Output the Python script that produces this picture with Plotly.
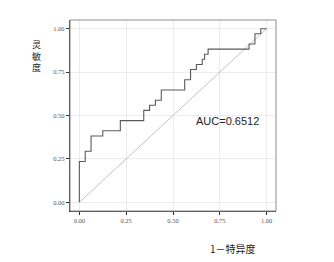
import plotly.graph_objects as go

# ROC step vertices (1 - specificity, sensitivity)
fpr = [0.0, 0.0, 1/32, 1/32, 2/32, 2/32, 4/32, 4/32, 7/32, 7/32, 11/32, 11/32,
       12/32, 12/32, 13/32, 13/32, 14/32, 14/32, 18/32, 18/32, 19/32, 19/32,
       20/32, 20/32, 21/32, 21/32, 21.4/32, 21.4/32, 22/32, 22/32, 29/32, 29/32,
       30/32, 30/32, 31/32, 31/32, 1.0]
tpr = [0.0, 8/34, 8/34, 10/34, 10/34, 13/34, 13/34, 14/34, 14/34, 16/34, 16/34, 18/34,
       18/34, 19/34, 19/34, 20/34, 20/34, 22/34, 22/34, 24/34, 24/34, 26/34,
       26/34, 27/34, 27/34, 28/34, 28/34, 29/34, 29/34, 30/34, 30/34, 31/34,
       31/34, 33/34, 33/34, 1.0, 1.0]
diag = [0.0, 1.0]
ticks = [0.0, 0.25, 0.5, 0.75, 1.0]
tick_labels = ["0.00", "0.25", "0.50", "0.75", "1.00"]
auc_label = "AUC=0.6512"
x_title = "1－特异度"
y_title = "灵<br>敏<br>度"

fig = go.Figure()
fig.add_trace(go.Scatter(x=diag, y=diag, mode="lines",
                         line=dict(color="#b3b3b3", width=0.8), hoverinfo="skip"))
fig.add_trace(go.Scatter(x=fpr, y=tpr, mode="lines",
                         line=dict(color="#5a5a5a", width=1.1)))

axis_common = dict(
    range=[-0.05, 1.05], tickvals=ticks, ticktext=tick_labels,
    showgrid=True, gridcolor="#ececec", gridwidth=0.6, zeroline=False,
    showline=True, linecolor="#333333", linewidth=1.2,
    ticks="outside", ticklen=3, tickwidth=0.8, tickcolor="#333333",
    tickfont=dict(family="Liberation Serif", size=6.5, color="#555555"),
    fixedrange=True,
)
fig.update_xaxes(**axis_common)
fig.update_yaxes(**axis_common)

fig.add_shape(type="rect", xref="paper", yref="paper", x0=0, y0=0, x1=1, y1=1,
              line=dict(color="#8c8c8c", width=1), layer="above")

W = 276 - 69.5
H = 211 - 20


def px(x):
    return (x - 69.5) / W


def py(y):
    return (211 - y) / H


fig.add_annotation(text=auc_label, xref="paper", yref="paper",
                   x=px(227), y=py(121),
                   showarrow=False, xanchor="center", yanchor="middle",
                   font=dict(family="Liberation Sans", size=11, color="#222222"))
fig.add_annotation(text=x_title, xref="paper", yref="paper",
                   x=px(233), y=py(248),
                   showarrow=False, xanchor="center", yanchor="middle",
                   font=dict(family="Noto Sans CJK SC", size=10, color="#222222"))
fig.add_annotation(text=y_title, xref="paper", yref="paper",
                   x=px(36), y=py(56.5),
                   showarrow=False, xanchor="center", yanchor="middle",
                   font=dict(family="Noto Sans CJK SC", size=9, color="#222222"))

fig.update_layout(
    width=334, height=262,
    margin=dict(l=69.5, r=58, t=20, b=51),
    plot_bgcolor="white", paper_bgcolor="white",
    showlegend=False,
)
fig.write_html("out.html", config={"displayModeBar": False})
